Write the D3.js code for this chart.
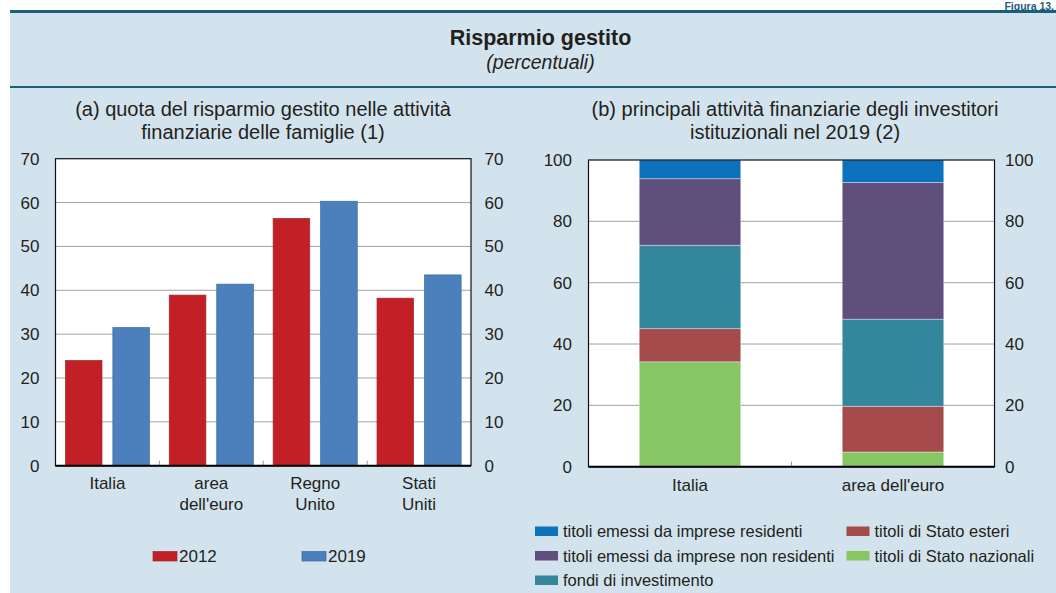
<!DOCTYPE html>
<html><head><meta charset="utf-8">
<script src="https://cdn.jsdelivr.net/npm/d3@7"></script>
<style>
body{margin:0;background:#fff;}
svg{display:block;font-family:"Liberation Sans",Arial,sans-serif;}
</style></head>
<body><svg id="c" width="1056" height="593"></svg>
<script>
// ---- data ----
const countriesA = ["Italia", "area dell'euro", "Regno Unito", "Stati Uniti"];
const countryLinesA = [["Italia"], ["area", "dell'euro"], ["Regno", "Unito"], ["Stati", "Uniti"]];
const yearsA = ["2012", "2019"];
const values2012 = [24.0, 38.9, 56.4, 38.2];
const values2019 = [31.5, 41.4, 60.3, 43.5];
const ticksA = [0, 10, 20, 30, 40, 50, 60, 70];

const categoriesB = ["Italia", "area dell'euro"];
const seriesB = ["titoli di Stato nazionali", "titoli di Stato esteri", "fondi di investimento",
                 "titoli emessi da imprese non residenti", "titoli emessi da imprese residenti"];
const nazionali = [34.2, 4.8];
const esteri = [10.8, 14.9];
const fondi = [27.2, 28.4];
const nonResidenti = [21.7, 44.6];
const residenti = [6.1, 7.3];
const ticksB = [0, 20, 40, 60, 80, 100];

// ---- styles ----
const txt = "#231f20";
const dark = "#1c5d7e";
const colA = {"2012": "#c21f27", "2019": "#4b80bd"};
const strokeA = {"2012": "#9b2b2e", "2019": "#3a6a9e"};
const colB = {
  "titoli emessi da imprese residenti": "#0b72bb",
  "titoli emessi da imprese non residenti": "#5f4f7d",
  "fondi di investimento": "#33869b",
  "titoli di Stato esteri": "#a54b4b",
  "titoli di Stato nazionali": "#87c763"
};

const svg = d3.select("#c");

// header
svg.append("text").attr("x", 1054).attr("y", 9.8).attr("text-anchor", "end")
  .attr("font-weight", "bold").attr("font-size", 10.5).attr("fill", dark).text("Figura 13.");
svg.append("rect").attr("x", 10).attr("y", 13).attr("width", 1060).attr("height", 600).attr("fill", "#d2e3ed");
svg.append("rect").attr("x", 10).attr("y", 10).attr("width", 1060).attr("height", 3).attr("fill", dark);
svg.append("rect").attr("x", 10).attr("y", 86).attr("width", 1060).attr("height", 2).attr("fill", dark);
svg.append("text").attr("x", 540.5).attr("y", 45).attr("text-anchor", "middle")
  .attr("font-weight", "bold").attr("font-size", 21.5).attr("fill", txt).text("Risparmio gestito");
svg.append("text").attr("x", 540.5).attr("y", 69).attr("text-anchor", "middle")
  .attr("font-style", "italic").attr("font-size", 19.5).attr("fill", txt).text("(percentuali)");

function subtitle(cx, lines) {
  lines.forEach((l, i) => svg.append("text").attr("x", cx).attr("y", 116 + i * 22.5)
    .attr("text-anchor", "middle").attr("font-size", 20).attr("fill", txt).text(l));
}
subtitle(263, ["(a) quota del risparmio gestito nelle attività", "finanziarie delle famiglie (1)"]);
subtitle(795, ["(b) principali attività finanziarie degli investitori", "istituzionali nel 2019 (2)"]);

// ---- chart A ----
const A = {l: 55.5, r: 471, t: 158.7, b: 465.7};
const xA = d3.scaleBand().domain(countriesA).range([A.l, A.r]);
const xA2 = d3.scaleBand().domain(yearsA).range([0, xA.bandwidth()]).paddingInner(0.229).paddingOuter(0.208);
const yA = d3.scaleLinear().domain([0, 70]).range([A.b, A.t]);
const gA = svg.append("g");
gA.append("rect").attr("x", A.l).attr("y", A.t).attr("width", A.r - A.l).attr("height", A.b - A.t).attr("fill", "#fff");
gA.append("g").selectAll("line").data(ticksA.slice(1, -1)).join("line")
  .attr("x1", A.l).attr("x2", A.r).attr("y1", d => yA(d)).attr("y2", d => yA(d))
  .attr("stroke", "#a3a3a3").attr("stroke-width", 1);
const dataA = countriesA.map((c, i) => ({c, v: {"2012": values2012[i], "2019": values2019[i]}}));
dataA.forEach(d => {
  yearsA.forEach(yr => {
    gA.append("rect").attr("x", xA(d.c) + xA2(yr)).attr("width", xA2.bandwidth())
      .attr("y", yA(d.v[yr])).attr("height", yA(0) - yA(d.v[yr]))
      .attr("fill", colA[yr]).attr("stroke", strokeA[yr]).attr("stroke-width", 0.7);
  });
});
// band ticks
gA.append("g").selectAll("line").data(countriesA.slice(1)).join("line")
  .attr("x1", d => xA(d)).attr("x2", d => xA(d)).attr("y1", A.b - 5).attr("y2", A.b)
  .attr("stroke", "#999").attr("stroke-width", 1);
// frame
gA.append("rect").attr("x", A.l).attr("y", A.t).attr("width", A.r - A.l).attr("height", A.b - A.t)
  .attr("fill", "none").attr("stroke", "#111").attr("stroke-width", 1.2);
gA.append("line").attr("x1", A.l).attr("x2", A.r).attr("y1", A.b).attr("y2", A.b).attr("stroke", "#000").attr("stroke-width", 2);
// axes labels
const axLA = d3.axisLeft(yA).tickValues(ticksA).tickSize(0).tickPadding(16);
const axRA = d3.axisRight(yA).tickValues(ticksA).tickSize(0).tickPadding(13.5);
function styleAxis(g) {
  g.select(".domain").remove();
  g.selectAll("text").attr("font-size", 17).attr("fill", txt).attr("font-family", "Liberation Sans, Arial, sans-serif");
}
svg.append("g").attr("transform", `translate(${A.l},0)`).call(axLA).call(styleAxis);
svg.append("g").attr("transform", `translate(${A.r},0)`).call(axRA).call(styleAxis);
// category labels
countriesA.forEach((c, i) => {
  countryLinesA[i].forEach((l, j) => svg.append("text").attr("x", xA(c) + xA.bandwidth() / 2)
    .attr("y", 489 + j * 21).attr("text-anchor", "middle").attr("font-size", 17).attr("fill", txt).text(l));
});
// legend A
const legA = [{k: "2012", x: 153}, {k: "2019", x: 302}];
legA.forEach(d => {
  svg.append("rect").attr("x", d.x).attr("y", 551.5).attr("width", 24).attr("height", 9.5)
    .attr("fill", colA[d.k]).attr("stroke", strokeA[d.k]).attr("stroke-width", 0.7);
  svg.append("text").attr("x", d.x + 26).attr("y", 562).attr("font-size", 17).attr("fill", txt).text(d.k);
});

// ---- chart B ----
const B = {l: 588.5, r: 994.5, t: 160, b: 466.7};
const xB = d3.scaleBand().domain(categoriesB).range([B.l, B.r]).paddingInner(0.5).paddingOuter(0.25);
const yB = d3.scaleLinear().domain([0, 100]).range([B.b, B.t]);
const gB = svg.append("g");
gB.append("rect").attr("x", B.l).attr("y", B.t).attr("width", B.r - B.l).attr("height", B.b - B.t).attr("fill", "#fff");
gB.append("g").selectAll("line").data(ticksB.slice(1, -1)).join("line")
  .attr("x1", B.l).attr("x2", B.r).attr("y1", d => yB(d)).attr("y2", d => yB(d))
  .attr("stroke", "#a3a3a3").attr("stroke-width", 1);
const seriesVals = {
  "titoli di Stato nazionali": nazionali,
  "titoli di Stato esteri": esteri,
  "fondi di investimento": fondi,
  "titoli emessi da imprese non residenti": nonResidenti,
  "titoli emessi da imprese residenti": residenti
};
const tableB = categoriesB.map((c, i) => {
  const o = {cat: c};
  seriesB.forEach(s => o[s] = seriesVals[s][i]);
  return o;
});
const stacked = d3.stack().keys(seriesB)(tableB);
gB.append("g").selectAll("g").data(stacked).join("g").attr("fill", d => colB[d.key])
  .selectAll("rect").data(d => d).join("rect")
  .attr("x", d => xB(d.data.cat)).attr("width", xB.bandwidth())
  .attr("y", d => yB(d[1])).attr("height", d => yB(d[0]) - yB(d[1]))
  .attr("stroke", "rgba(255,255,255,0.45)").attr("stroke-width", 0.8);
gB.append("line").attr("x1", (xB(categoriesB[0]) + xB.bandwidth() + xB(categoriesB[1])) / 2)
  .attr("x2", (xB(categoriesB[0]) + xB.bandwidth() + xB(categoriesB[1])) / 2)
  .attr("y1", B.b - 5).attr("y2", B.b).attr("stroke", "#999");
gB.append("rect").attr("x", B.l).attr("y", B.t).attr("width", B.r - B.l).attr("height", B.b - B.t)
  .attr("fill", "none").attr("stroke", "#111").attr("stroke-width", 1.2);
gB.append("line").attr("x1", B.l).attr("x2", B.r).attr("y1", B.b).attr("y2", B.b).attr("stroke", "#000").attr("stroke-width", 2);
svg.append("g").attr("transform", `translate(${B.l},0)`)
  .call(d3.axisLeft(yB).tickValues(ticksB).tickSize(0).tickPadding(16.5)).call(styleAxis);
svg.append("g").attr("transform", `translate(${B.r},0)`)
  .call(d3.axisRight(yB).tickValues(ticksB).tickSize(0).tickPadding(10.5)).call(styleAxis);
categoriesB.forEach(c => svg.append("text").attr("x", xB(c) + xB.bandwidth() / 2).attr("y", 491)
  .attr("text-anchor", "middle").attr("font-size", 17).attr("fill", txt).text(c));

// legend B
const legB = [
  {k: "titoli emessi da imprese residenti", x: 535, y: 531},
  {k: "titoli emessi da imprese non residenti", x: 535, y: 555.5},
  {k: "fondi di investimento", x: 535, y: 580},
  {k: "titoli di Stato esteri", x: 846.5, y: 531},
  {k: "titoli di Stato nazionali", x: 846.5, y: 555.5}
];
legB.forEach(d => {
  svg.append("rect").attr("x", d.x).attr("y", d.y - 4.5).attr("width", 23).attr("height", 9.5).attr("fill", colB[d.k]);
  svg.append("text").attr("x", d.x + 28).attr("y", d.y + 6).attr("font-size", 16.5).attr("fill", txt).text(d.k);
});
</script></body></html>
